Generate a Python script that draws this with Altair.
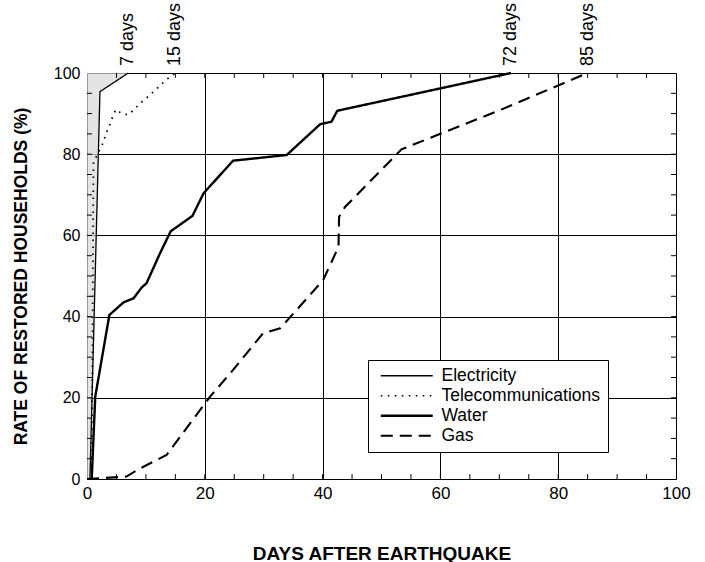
import altair as alt
import pandas as pd

series_names = ["Electricity", "Telecommunications", "Water", "Gas"]

elec_days = [0.5, 2.2, 7]
elec_pct = [0, 95.4, 100]

tele_days = [0.8, 1.1, 2.8, 3.2, 3.8, 4.3, 4.9, 5.9, 7.0, 8.0, 9.0, 10.2, 11.3, 12.4, 13.5, 15]
tele_pct = [0, 78, 83, 85, 87, 89, 91, 90, 89.7, 91, 92.5, 94, 95.4, 96.9, 98.4, 100]

water_days = [0.8, 1.4, 3.8, 6.2, 7.9, 9.3, 10.1, 12.4, 14.2, 17.9, 19.8, 24.8, 33.9, 39.6, 41.5, 42.5, 72]
water_pct = [0, 20.3, 40.4, 43.5, 44.5, 47.2, 48.2, 55.6, 61, 64.8, 70.4, 78.4, 79.8, 87.4, 88, 90.7, 100]

gas_days = [0, 6.7, 9, 13.5, 20.9, 24.3, 29.9, 32.8, 40.1, 42.7, 42.8, 43.8, 53.4, 70, 85]
gas_pct = [0, 0.6, 2.6, 5.9, 20.3, 26, 35.9, 37.1, 49, 57.2, 64.6, 67, 81.2, 90.8, 100]

note_days = [7, 15, 72, 85]
note_labels = ["7 days", "15 days", "72 days", "85 days"]

axis_values = [0, 20, 40, 60, 80, 100]
minor_values = [5, 10, 15, 20, 25, 30, 35, 40, 45, 50, 55, 60, 65, 70, 75, 80, 85, 90, 95]

FONT = "Liberation Sans"

rows = []
for name, ds, ps in [("Electricity", elec_days, elec_pct),
                     ("Telecommunications", tele_days, tele_pct),
                     ("Water", water_days, water_pct),
                     ("Gas", gas_days, gas_pct)]:
    for i, (d, p) in enumerate(zip(ds, ps)):
        rows.append({"series": name, "day": d, "pct": p, "order": i})
df = pd.DataFrame(rows)

area_df = pd.DataFrame({"day": elec_days, "pct": elec_pct})
notes_df = pd.DataFrame({"day": note_days, "label": note_labels})

tick_x = pd.DataFrame(
    [{"day": v, "pct": 0, "pct2": 1.2} for v in minor_values]
    + [{"day": v, "pct": 100, "pct2": 98.8} for v in minor_values]
)
tick_y = pd.DataFrame(
    [{"pct": v, "day": 0, "day2": 0.85} for v in minor_values]
    + [{"pct": v, "day": 100, "day2": 99.15} for v in minor_values]
)

xscale = alt.Scale(domain=[0, 100], nice=False, zero=True)
yscale = alt.Scale(domain=[0, 100], nice=False, zero=True)

xaxis = alt.Axis(values=axis_values, grid=True, gridColor="black", gridOpacity=1, gridWidth=1,
                 ticks=False, domain=False, labelFontSize=17, labelFont=FONT, labelColor="black",
                 labelPadding=6, labelFlush=False,
                 title="DAYS AFTER EARTHQUAKE", titleFont=FONT, titleFontSize=19,
                 titleFontWeight="bold", titleColor="black", titlePadding=43)
yaxis = alt.Axis(values=axis_values, grid=True, gridColor="black", gridOpacity=1, gridWidth=1,
                 ticks=False, domain=False, labelFontSize=16, labelFont=FONT, labelColor="black",
                 labelPadding=7, labelFlush=False,
                 title="RATE OF RESTORED HOUSEHOLDS (%)", titleFont=FONT, titleFontSize=17.5,
                 titleFontWeight="bold", titleColor="black", titlePadding=23)

area = alt.Chart(area_df).mark_area(orient="horizontal", color="#d9d9d9", opacity=0.7).encode(
    x=alt.X("day:Q", scale=xscale, axis=xaxis),
    x2=alt.datum(0),
    y=alt.Y("pct:Q", scale=yscale, axis=yaxis),
)

legend = alt.Legend(title=None, orient="none", legendX=281, legendY=287,
                    strokeColor="black", fillColor="white", padding=7,
                    symbolType="M-5,0H5", symbolSize=108, symbolStrokeColor="black",
                    symbolOffset=23, labelOffset=26, labelLimit=400,
                    labelFont=FONT, labelFontSize=17.5, labelColor="black", rowPadding=1)

lines = alt.Chart(df).mark_line(color="black", strokeCap="butt").encode(
    x=alt.X("day:Q", scale=xscale, axis=xaxis),
    y=alt.Y("pct:Q", scale=yscale, axis=yaxis),
    order="order:Q",
    detail="series:N",
    strokeDash=alt.StrokeDash("series:N",
                              scale=alt.Scale(domain=series_names,
                                              range=[[1, 0], [1.6, 5.4], [1, 0], [12, 7]]),
                              legend=legend),
    strokeWidth=alt.StrokeWidth("series:N",
                                scale=alt.Scale(type="ordinal", domain=series_names,
                                                range=[1.3, 1.7, 2.4, 2.1]),
                                legend=legend),
)

ticks_bt = alt.Chart(tick_x).mark_rule(color="black", strokeWidth=1).encode(
    x=alt.X("day:Q", scale=xscale), y=alt.Y("pct:Q", scale=yscale), y2="pct2:Q")
ticks_lr = alt.Chart(tick_y).mark_rule(color="black", strokeWidth=1).encode(
    x=alt.X("day:Q", scale=xscale), x2="day2:Q", y=alt.Y("pct:Q", scale=yscale))

notes = alt.Chart(notes_df).mark_text(angle=270, align="left", baseline="middle", dx=7,
                                      font=FONT, fontSize=18, color="black").encode(
    x=alt.X("day:Q", scale=xscale),
    y=alt.datum(100),
    text="label:N",
)

chart = alt.layer(area, lines, ticks_bt, ticks_lr, notes).properties(
    width=589, height=406,
    autosize=alt.AutoSizeParams(type="none"),
    padding={"left": 87, "top": 73, "right": 29, "bottom": 83},
).configure_view(stroke="black", strokeWidth=1.5).configure(background="white")

chart.save("out.html", embed_options={"renderer": "svg", "actions": False})
